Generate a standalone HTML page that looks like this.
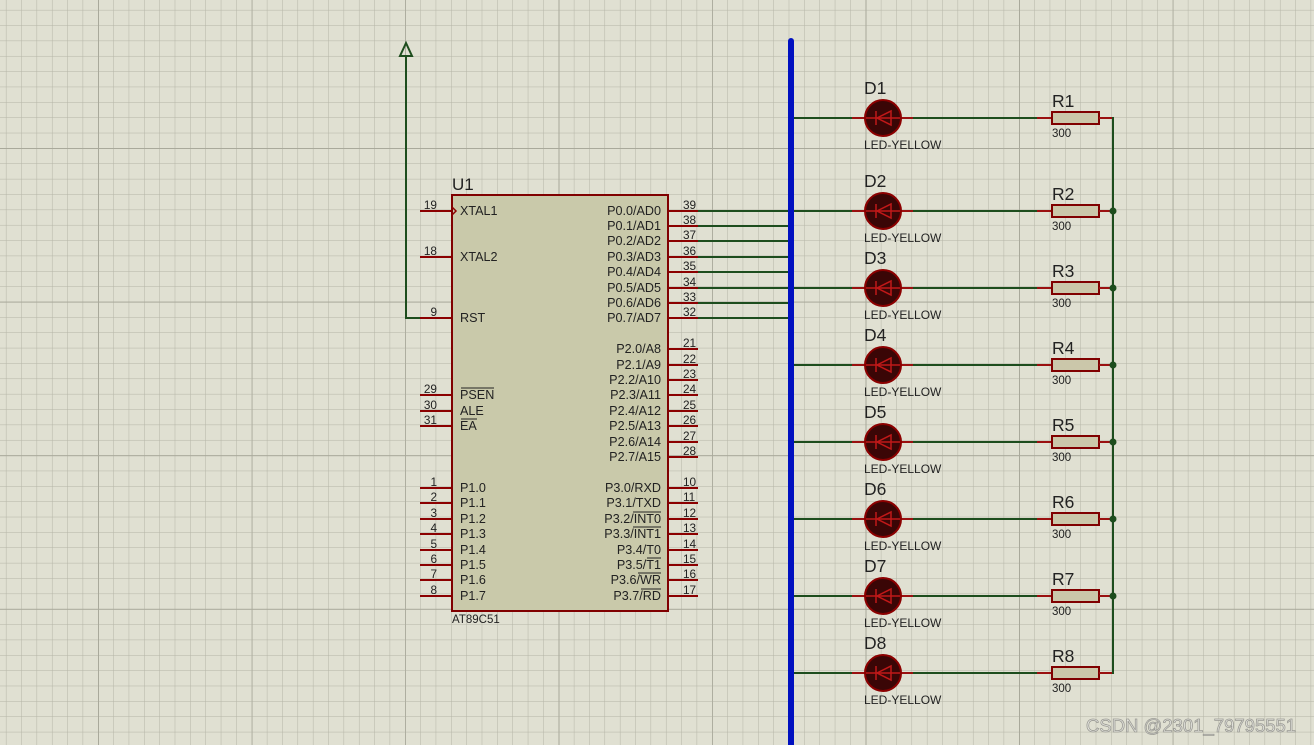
<!DOCTYPE html>
<html><head><meta charset="utf-8"><style>
html,body{margin:0;padding:0;background:#e0e0d2;}
svg{display:block;}
text{font-family:"Liberation Sans",sans-serif;fill:#222;}
.pl{font-size:12.6px;}
.pn{font-size:11.8px;}
</style></head><body>
<svg width="1314" height="745" viewBox="0 0 1314 745" xmlns="http://www.w3.org/2000/svg">
<defs>
<pattern id="gmin" x="5.9" y="9.9" width="15.35" height="15.36" patternUnits="userSpaceOnUse">
<path d="M0 0V15.36M0 0H15.35" stroke="#b4b4a6" stroke-width="1" fill="none"/>
</pattern>
<pattern id="gmaj" x="98" y="148" width="153.5" height="153.6" patternUnits="userSpaceOnUse">
<path d="M0 0V153.6M0 0H153.5" stroke="#a9a99b" stroke-width="2" fill="none"/>
</pattern>
<g id="led">
<line x1="791" y1="0" x2="852" y2="0" stroke="#1d4d1d" stroke-width="2"/>
<line x1="852" y1="0" x2="913" y2="0" stroke="#9a1010" stroke-width="2"/>
<circle cx="883" cy="0" r="18" fill="#3a0606" stroke="#8b0000" stroke-width="2"/>
<line x1="866" y1="0" x2="900" y2="0" stroke="#c01818" stroke-width="1.5"/>
<polygon points="891,-7 891,7 877,0" fill="none" stroke="#c01818" stroke-width="1.5"/>
<line x1="876" y1="-7" x2="876" y2="7" stroke="#c01818" stroke-width="1.5"/>
<line x1="913" y1="0" x2="1037" y2="0" stroke="#1d4d1d" stroke-width="2"/>
<line x1="1037" y1="0" x2="1052" y2="0" stroke="#9a1010" stroke-width="2"/>
<rect x="1052" y="-6" width="47" height="12" fill="#cbc7aa" stroke="#800000" stroke-width="2"/>
<line x1="1099" y1="0" x2="1113" y2="0" stroke="#9a1010" stroke-width="2"/>
</g>
<line id="lp" x1="420" y1="0" x2="452" y2="0" stroke="#8b0000" stroke-width="2"/>
<line id="rp" x1="668" y1="0" x2="698" y2="0" stroke="#8b0000" stroke-width="2"/>
</defs>
<rect width="1314" height="745" fill="#e0e0d2"/>
<rect width="1314" height="745" fill="url(#gmin)"/>
<rect width="1314" height="745" fill="url(#gmaj)"/>

<polyline points="420,318 406,318 406,55" fill="none" stroke="#1d4d1d" stroke-width="2"/>
<polygon points="406,43 400,56 412,56" fill="none" stroke="#1d4d1d" stroke-width="2"/>

<g stroke="#1d4d1d" stroke-width="2">
<line x1="698" y1="211" x2="791" y2="211"/><line x1="698" y1="226" x2="791" y2="226"/>
<line x1="698" y1="241" x2="791" y2="241"/><line x1="698" y1="257" x2="791" y2="257"/>
<line x1="698" y1="272" x2="791" y2="272"/><line x1="698" y1="288" x2="791" y2="288"/>
<line x1="698" y1="303" x2="791" y2="303"/><line x1="698" y1="318" x2="791" y2="318"/>
</g>

<use href="#lp" y="211"/><use href="#lp" y="257"/><use href="#lp" y="318"/>
<use href="#lp" y="395"/><use href="#lp" y="411"/><use href="#lp" y="426"/>
<use href="#lp" y="488"/><use href="#lp" y="503"/><use href="#lp" y="519"/><use href="#lp" y="534"/>
<use href="#lp" y="550"/><use href="#lp" y="565"/><use href="#lp" y="580"/><use href="#lp" y="596"/>
<use href="#rp" y="211"/><use href="#rp" y="226"/><use href="#rp" y="241"/><use href="#rp" y="257"/>
<use href="#rp" y="272"/><use href="#rp" y="288"/><use href="#rp" y="303"/><use href="#rp" y="318"/>
<use href="#rp" y="349"/><use href="#rp" y="365"/><use href="#rp" y="380"/><use href="#rp" y="395"/>
<use href="#rp" y="411"/><use href="#rp" y="426"/><use href="#rp" y="442"/><use href="#rp" y="457"/>
<use href="#rp" y="488"/><use href="#rp" y="503"/><use href="#rp" y="519"/><use href="#rp" y="534"/>
<use href="#rp" y="550"/><use href="#rp" y="565"/><use href="#rp" y="580"/><use href="#rp" y="596"/>

<rect x="452" y="195" width="216" height="416" fill="#c9c9aa" stroke="#800000" stroke-width="2"/>
<polyline points="452,207 456,211 452,215" fill="none" stroke="#8b0000" stroke-width="1.5"/>
<text x="452" y="190" font-size="17">U1</text>
<text x="452" y="623" font-size="11.5">AT89C51</text>

<g class="pl">
<text x="460" y="215">XTAL1</text><text x="460" y="261">XTAL2</text><text x="460" y="322">RST</text>
<text x="460" y="399">PSEN</text><text x="460" y="415">ALE</text><text x="460" y="430">EA</text>
<text x="460" y="492">P1.0</text><text x="460" y="507">P1.1</text><text x="460" y="523">P1.2</text><text x="460" y="538">P1.3</text>
<text x="460" y="554">P1.4</text><text x="460" y="569">P1.5</text><text x="460" y="584">P1.6</text><text x="460" y="600">P1.7</text>
</g>
<g stroke="#222" stroke-width="1">
<line x1="461" y1="388" x2="494" y2="388"/><line x1="461" y1="419" x2="477" y2="419"/>
<line x1="633" y1="512" x2="661" y2="512"/><line x1="633" y1="527" x2="661" y2="527"/>
<line x1="647" y1="558" x2="661" y2="558"/><line x1="638" y1="573" x2="661" y2="573"/>
<line x1="641" y1="589" x2="661" y2="589"/>
</g>
<g class="pl" text-anchor="end">
<text x="661" y="215">P0.0/AD0</text><text x="661" y="230">P0.1/AD1</text><text x="661" y="245">P0.2/AD2</text><text x="661" y="261">P0.3/AD3</text>
<text x="661" y="276">P0.4/AD4</text><text x="661" y="292">P0.5/AD5</text><text x="661" y="307">P0.6/AD6</text><text x="661" y="322">P0.7/AD7</text>
<text x="661" y="353">P2.0/A8</text><text x="661" y="369">P2.1/A9</text><text x="661" y="384">P2.2/A10</text><text x="661" y="399">P2.3/A11</text>
<text x="661" y="415">P2.4/A12</text><text x="661" y="430">P2.5/A13</text><text x="661" y="446">P2.6/A14</text><text x="661" y="461">P2.7/A15</text>
<text x="661" y="492">P3.0/RXD</text><text x="661" y="507">P3.1/TXD</text><text x="661" y="523">P3.2/INT0</text><text x="661" y="538">P3.3/INT1</text>
<text x="661" y="554">P3.4/T0</text><text x="661" y="569">P3.5/T1</text><text x="661" y="584">P3.6/WR</text><text x="661" y="600">P3.7/RD</text>
</g>
<g class="pn" text-anchor="end">
<text x="437" y="209">19</text><text x="437" y="255">18</text><text x="437" y="316">9</text>
<text x="437" y="393">29</text><text x="437" y="409">30</text><text x="437" y="424">31</text>
<text x="437" y="486">1</text><text x="437" y="501">2</text><text x="437" y="517">3</text><text x="437" y="532">4</text>
<text x="437" y="548">5</text><text x="437" y="563">6</text><text x="437" y="578">7</text><text x="437" y="594">8</text>
</g>
<g class="pn">
<text x="683" y="209">39</text><text x="683" y="224">38</text><text x="683" y="239">37</text><text x="683" y="255">36</text>
<text x="683" y="270">35</text><text x="683" y="286">34</text><text x="683" y="301">33</text><text x="683" y="316">32</text>
<text x="683" y="347">21</text><text x="683" y="363">22</text><text x="683" y="378">23</text><text x="683" y="393">24</text>
<text x="683" y="409">25</text><text x="683" y="424">26</text><text x="683" y="440">27</text><text x="683" y="455">28</text>
<text x="683" y="486">10</text><text x="683" y="501">11</text><text x="683" y="517">12</text><text x="683" y="532">13</text>
<text x="683" y="548">14</text><text x="683" y="563">15</text><text x="683" y="578">16</text><text x="683" y="594">17</text>
</g>

<use href="#led" y="118"/><use href="#led" y="211"/><use href="#led" y="288"/><use href="#led" y="365"/>
<use href="#led" y="442"/><use href="#led" y="519"/><use href="#led" y="596"/><use href="#led" y="673"/>
<line x1="1113" y1="117" x2="1113" y2="674" stroke="#1d4d1d" stroke-width="2"/>
<g fill="#1d4d1d">
<circle cx="1113" cy="211" r="3.5"/><circle cx="1113" cy="288" r="3.5"/><circle cx="1113" cy="365" r="3.5"/>
<circle cx="1113" cy="442" r="3.5"/><circle cx="1113" cy="519" r="3.5"/><circle cx="1113" cy="596" r="3.5"/>
</g>

<line x1="791" y1="41" x2="791" y2="750" stroke="#0010c0" stroke-width="6" stroke-linecap="round"/>

<g font-size="17.5">
<text x="864" y="94">D1</text><text x="864" y="187">D2</text><text x="864" y="264">D3</text><text x="864" y="341">D4</text>
<text x="864" y="418">D5</text><text x="864" y="495">D6</text><text x="864" y="572">D7</text><text x="864" y="649">D8</text>
<text x="1052" y="107">R1</text><text x="1052" y="200">R2</text><text x="1052" y="277">R3</text><text x="1052" y="354">R4</text>
<text x="1052" y="431">R5</text><text x="1052" y="508">R6</text><text x="1052" y="585">R7</text><text x="1052" y="662">R8</text>
</g>
<g font-size="12">
<text x="864" y="149">LED-YELLOW</text><text x="864" y="242">LED-YELLOW</text><text x="864" y="319">LED-YELLOW</text><text x="864" y="396">LED-YELLOW</text>
<text x="864" y="473">LED-YELLOW</text><text x="864" y="550">LED-YELLOW</text><text x="864" y="627">LED-YELLOW</text><text x="864" y="704">LED-YELLOW</text>
</g>
<g font-size="11.5">
<text x="1052" y="137">300</text><text x="1052" y="230">300</text><text x="1052" y="307">300</text><text x="1052" y="384">300</text>
<text x="1052" y="461">300</text><text x="1052" y="538">300</text><text x="1052" y="615">300</text><text x="1052" y="692">300</text>
</g>

<text x="1086" y="732" font-size="18.5" style="fill:#e6e6e0;stroke:#9a9a94;stroke-width:0.8">CSDN @2301_79795551</text>
</svg>
</body></html>
